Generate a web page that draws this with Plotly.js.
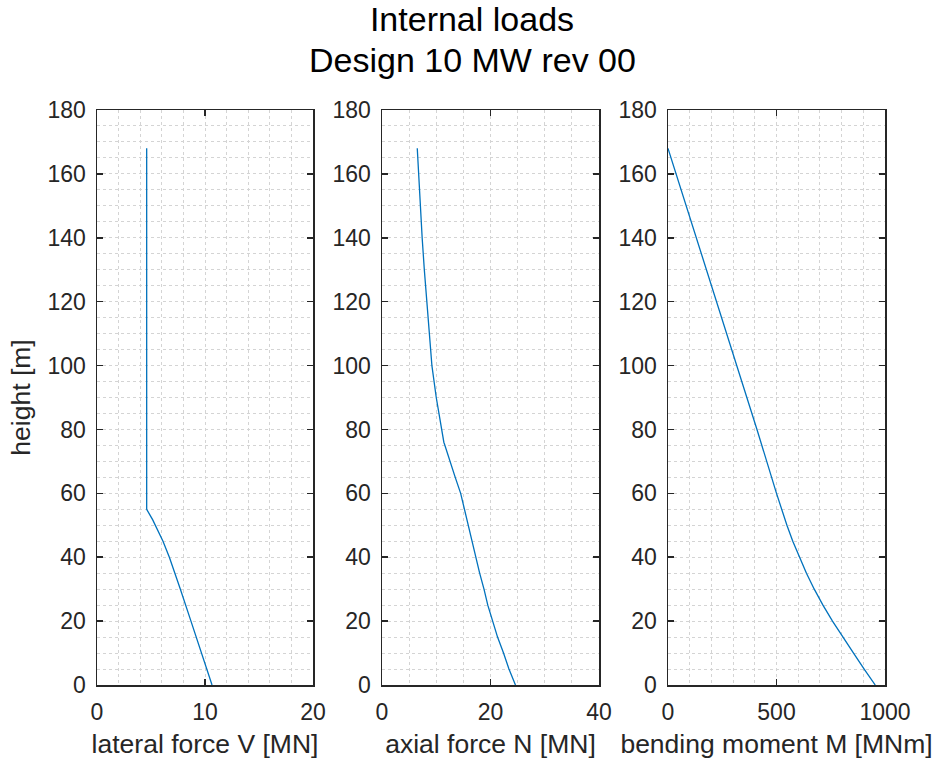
<!DOCTYPE html>
<html>
<head>
<meta charset="utf-8">
<script src="https://cdn.plot.ly/plotly-3.0.1.min.js"></script>
<style>html,body{margin:0;padding:0;background:#fff;}#chart{width:944px;height:765px;}</style>
</head>
<body>
<div id="chart"></div>
<script>
// ---- data ----
const heightV = [168, 55, 51.7, 48.5, 45, 40, 35, 30, 20, 10, 0];
const lateralForceV = [4.6, 4.6, 5.16, 5.62, 6.11, 6.70, 7.22, 7.72, 8.7, 9.69, 10.65];

const heightN = [168, 150, 140, 130, 120, 110, 100, 90, 85, 80, 76, 75, 70, 65, 60, 55, 50, 45, 40, 35, 30, 25, 20, 15, 10, 5, 0];
const axialForceN = [6.5, 7.0, 7.4, 7.8, 8.3, 8.7, 9.2, 10.0, 10.5, 10.9, 11.4, 11.6, 12.5, 13.5, 14.5, 15.2, 15.9, 16.5, 17.2, 18.0, 18.8, 19.5, 20.4, 21.3, 22.4, 23.4, 24.6];

const heightM = [168, 120, 100, 80, 60, 55, 50, 45, 40, 35, 30, 25, 20, 15, 10, 5, 0];
const bendingMomentM = [0, 224, 316, 410, 500, 523, 548, 575, 605, 638, 674, 714, 758, 805, 855, 904, 955];

const titleLines = ["Internal loads", "Design 10 MW rev 00"];
const xTitles = ["lateral force V [MN]", "axial force N [MN]", "bending moment M [MNm]"];
const yTitle = "height [m]";
const xRanges = [[0, 20], [0, 40], [0, 1000]];
const xTickVals = [[0, 10, 20], [0, 20, 40], [0, 500, 1000]];
const xMinorSteps = [2, 5, 100];
const yTickVals = [0, 20, 40, 60, 80, 100, 120, 140, 160, 180];

// ---- layout helpers ----
const W = 944, H = 765;
const FONT = 'Arial, "Liberation Sans", Helvetica, sans-serif';
const AX = '#262626';
const GRID = '#d4d4d4';
const LINE = '#0072BD';
const px2x = p => p / W;
const px2y = p => 1 - p / H;
const plotTop = 110, plotBottom = 685;
const xDomPx = [[97, 313], [382, 599], [668, 885]];

function xAxis(i) {
  return {
    domain: [px2x(xDomPx[i][0]), px2x(xDomPx[i][1])],
    range: xRanges[i],
    anchor: i === 0 ? 'y' : 'y' + (i + 1),
    tickmode: 'array',
    tickvals: xTickVals[i],
    ticktext: xTickVals[i].map(String),
    ticks: 'inside', ticklen: 6, tickwidth: 1.5, tickcolor: AX,
    showline: true, linecolor: AX, linewidth: 1.5, mirror: 'ticks',
    showgrid: true, gridcolor: GRID, griddash: 'dot', gridwidth: 1,
    minor: {dtick: xMinorSteps[i], tick0: 0, showgrid: true, gridcolor: GRID, griddash: 'dot', gridwidth: 1, ticks: ''},
    zeroline: false,
    tickfont: {family: FONT, size: 23, color: AX},
    ticklabelstandoff: 6,
    title: {text: xTitles[i], font: {family: FONT, size: 26.5, color: AX}, standoff: 10},
    automargin: false,
    fixedrange: true
  };
}
function yAxis(i) {
  return {
    domain: [px2y(plotBottom), px2y(plotTop)],
    range: [0, 180],
    anchor: i === 0 ? 'x' : 'x' + (i + 1),
    tickmode: 'array',
    tickvals: yTickVals,
    ticktext: yTickVals.map(String),
    ticks: 'inside', ticklen: 6, tickwidth: 1.5, tickcolor: AX,
    showline: true, linecolor: AX, linewidth: 1.5, mirror: 'ticks',
    showgrid: true, gridcolor: GRID, griddash: 'dot', gridwidth: 1,
    minor: {dtick: 5, tick0: 0, showgrid: true, gridcolor: GRID, griddash: 'dot', gridwidth: 1, ticks: ''},
    zeroline: false,
    tickfont: {family: FONT, size: 23, color: AX},
    ticklabelstandoff: 5,
    title: i === 0 ? {text: yTitle, font: {family: FONT, size: 26.5, color: AX}, standoff: 9} : {text: ''},
    automargin: false,
    fixedrange: true
  };
}

const lineStyle = {color: LINE, width: 1.3};
const data = [
  {x: lateralForceV, y: heightV, type: 'scatter', mode: 'lines', line: lineStyle, xaxis: 'x', yaxis: 'y', name: 'V', hoverinfo: 'x+y'},
  {x: axialForceN, y: heightN, type: 'scatter', mode: 'lines', line: lineStyle, xaxis: 'x2', yaxis: 'y2', name: 'N', hoverinfo: 'x+y'},
  {x: bendingMomentM, y: heightM, type: 'scatter', mode: 'lines', line: lineStyle, xaxis: 'x3', yaxis: 'y3', name: 'M', hoverinfo: 'x+y'}
];

const layout = {
  width: W, height: H,
  margin: {l: 0, r: 0, t: 0, b: 0},
  paper_bgcolor: '#ffffff', plot_bgcolor: '#ffffff',
  showlegend: false,
  font: {family: FONT, color: AX},
  title: {
    text: titleLines[0],
    font: {family: FONT, size: 34, color: '#000000'},
    x: 0.5, xanchor: 'center', xref: 'paper',
    y: px2y(19), yanchor: 'middle', yref: 'paper'
  },
  annotations: [
    {text: titleLines[1], xref: 'paper', yref: 'paper', x: 0.5, y: px2y(60), xanchor: 'center', yanchor: 'middle',
     showarrow: false, font: {family: FONT, size: 34, color: '#000000'}}
  ],
  xaxis: xAxis(0), xaxis2: xAxis(1), xaxis3: xAxis(2),
  yaxis: yAxis(0), yaxis2: yAxis(1), yaxis3: yAxis(2)
};

Plotly.newPlot('chart', data, layout, {displayModeBar: false, staticPlot: true});
</script>
</body>
</html>
